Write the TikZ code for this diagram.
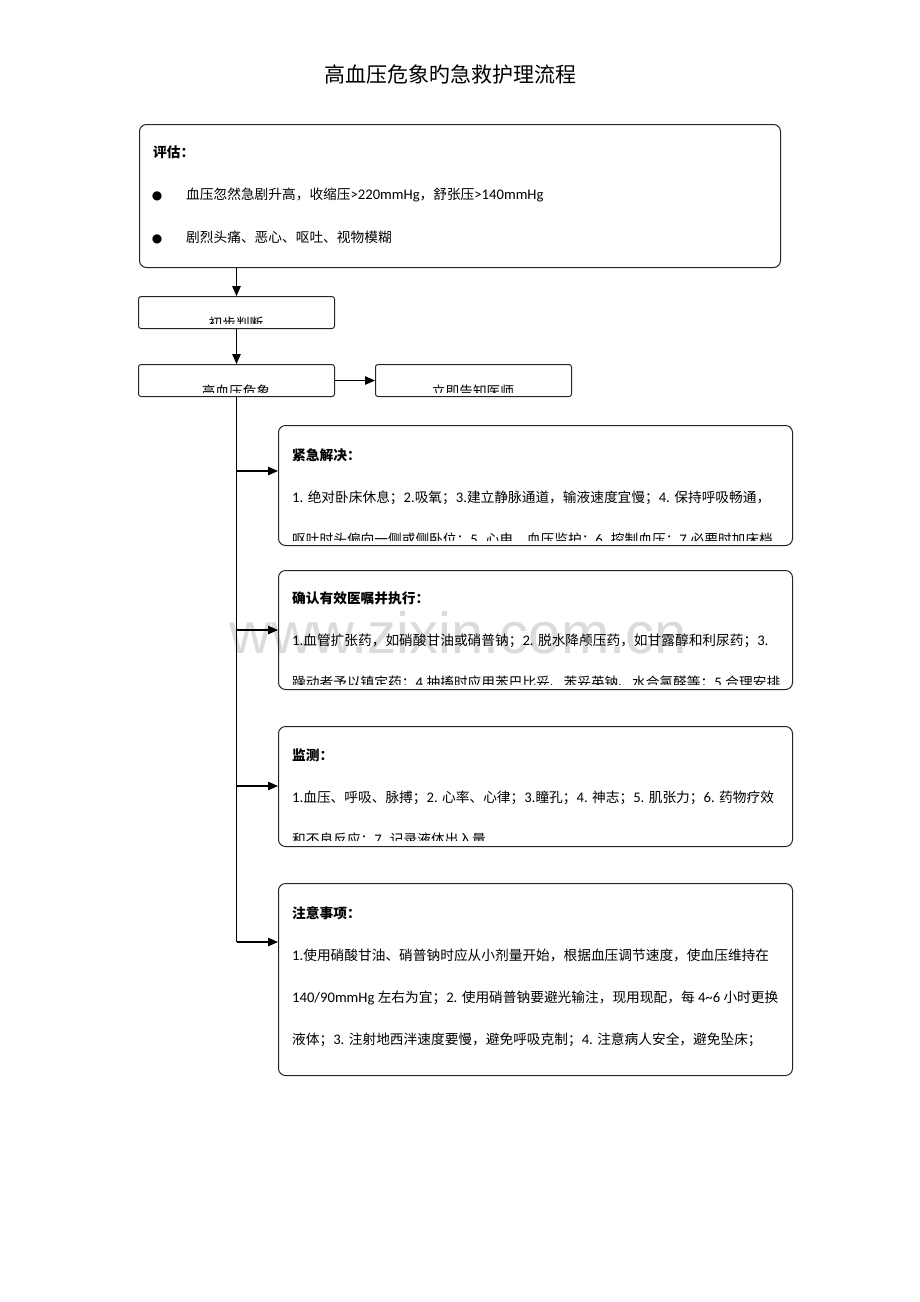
\documentclass[tikz,border=0pt]{standalone}
\usepackage{fontspec}
\setmainfont{Carlito}[Scale=1.07]
\newfontfamily\cj{Noto Sans CJK SC}
\newfontfamily\dv{DejaVu Sans}
\newfontfamily\wm{Liberation Sans}
\usetikzlibrary{arrows.meta}
\newcommand\zh[1]{{\cj #1}}
\begin{document}
\begin{tikzpicture}[x=1pt,y=-1pt,
 bigbox/.style={draw=black!85, line width=1pt, rounded corners=7pt, anchor=north west, inner sep=0pt},
 smallbox/.style={draw=black!85, line width=1pt, rounded corners=2.5pt, anchor=north west, inner sep=0pt, minimum width=196pt, minimum height=32pt},
 txt/.style={anchor=base west, inner sep=0pt, font=\fontsize{13.7pt}{16pt}\selectfont},
 ctxt/.style={anchor=base, inner sep=0pt, font=\cj\fontsize{13.7pt}{16pt}\selectfont},
 head/.style={anchor=base west, inner sep=0pt, font=\cj\bfseries\fontsize{13.7pt}{16pt}\selectfont},
 bul/.style={anchor=base, inner sep=0pt, font=\dv\fontsize{12pt}{14pt}\selectfont},
 arr/.style={line width=1.2pt, -{Triangle[length=10pt,width=8.5pt]}},
 conn/.style={line width=1.2pt}]
\fill[white] (0,0) rectangle (920,1302);
\useasboundingbox (0,0) rectangle (920,1302);
% watermark
\node[anchor=base, inner sep=0pt, text=black!14, font=\wm\fontsize{58pt}{60pt}\selectfont] (wmark) at (458,653) {www.zixin.com.cn};
% title
\node[anchor=base, inner sep=0pt, font=\cj\fontsize{21pt}{24pt}\selectfont] (title) at (450,82) {高血压危象旳急救护理流程};
% boxes
\node[bigbox, minimum width=641pt, minimum height=143pt] (assess) at (139,124) {};
\node[smallbox] (judge) at (138,296) {};
\node[smallbox] (crisis) at (138,364) {};
\node[smallbox] (notify) at (375,364) {};
\node[bigbox, minimum width=514pt, minimum height=120pt] (urgent) at (278,425) {};
\node[bigbox, minimum width=514pt, minimum height=119pt] (confirm) at (278,570) {};
\node[bigbox, minimum width=514pt, minimum height=120pt] (monitor) at (278,726) {};
\node[bigbox, minimum width=514pt, minimum height=192pt] (note) at (278,883) {};
% assess text
\node[head] (ah) at (153,157) {评估：};
\node[bul] (b1d) at (157,199) {●};
\node[txt] (a1) at (186,199) {\zh{血压忽然急剧升高，收缩压}>220mmHg\zh{，舒张压}>140mmHg};
\node[bul] (b2d) at (157,242) {●};
\node[txt] (a2) at (186,242) {\zh{剧烈头痛、恶心、呕吐、视物模糊}};
% small box texts (clipped)
\begin{scope}
\clip (138,296) rectangle (334,323);
\node[ctxt] (jt) at (236,328) {初步判断};
\end{scope}
\begin{scope}
\clip (138,364) rectangle (334,392);
\node[ctxt] (ct) at (236,396) {高血压危象};
\end{scope}
\begin{scope}
\clip (375,364) rectangle (571,392);
\node[ctxt] (nt) at (473,396) {立即告知医师};
\end{scope}
% urgent
\node[head] (uh) at (292,460) {紧急解决：};
\node[txt] (u1) at (292,502) {1. \zh{绝对卧床休息；}2.\zh{吸氧；}3.\zh{建立静脉通道，输液速度宜慢；}4. \zh{保持呼吸畅通，}};
\begin{scope}
\clip (278,425) rectangle (792,540);
\node[txt] (u2) at (292,544) {\zh{呕吐时头偏向一侧或侧卧位；}5. \zh{心电、血压监护；}6. \zh{控制血压；}7.\zh{必要时加床档}};
\end{scope}
% confirm
\node[head] (ch) at (292,603) {确认有效医嘱并执行：};
\node[txt] (c1) at (292,645) {1.\zh{血管扩张药，如硝酸甘油或硝普钠；}2. \zh{脱水降颅压药，如甘露醇和利尿药；}3.};
\begin{scope}
\clip (278,570) rectangle (792,684);
\node[txt] (c2) at (292,687) {\zh{躁动者予以镇定药；}4.\zh{抽搐时应用苯巴比妥、苯妥英钠、水合氯醛等；}5.\zh{合理安排}};
\end{scope}
% monitor
\node[head] (mh) at (292,760) {监测：};
\node[txt] (m1) at (292,802) {1.\zh{血压、呼吸、脉搏；}2. \zh{心率、心律；}3.\zh{瞳孔；}4. \zh{神志；}5. \zh{肌张力；}6. \zh{药物疗效}};
\begin{scope}
\clip (278,726) rectangle (792,840);
\node[txt] (m2) at (292,844) {\zh{和不良反应；}7. \zh{记录液体出入量}};
\end{scope}
% note
\node[head] (nh) at (292,918) {注意事项：};
\node[txt] (n1) at (292,960) {1.\zh{使用硝酸甘油、硝普钠时应从小剂量开始，根据血压调节速度，使血压维持在}};
\node[txt] (n2) at (292,1002) {140/90mmHg \zh{左右为宜；}2. \zh{使用硝普钠要避光输注，现用现配，每} 4\textasciitilde6 \zh{小时更换}};
\node[txt] (n3) at (292,1044) {\zh{液体；}3. \zh{注射地西泮速度要慢，避免呼吸克制；}4. \zh{注意病人安全，避免坠床；}};
% connectors
\draw[arr] (assess.south -| judge.north) -- (judge.north);
\draw[arr] (judge.south) -- (crisis.north);
\draw[arr] (crisis.east) -- (notify.west);
\coordinate (k1) at (crisis.south |- 0,471);
\coordinate (k2) at (crisis.south |- 0,630);
\coordinate (k3) at (crisis.south |- 0,786);
\coordinate (k4) at (crisis.south |- 0,942);
\draw[conn] (crisis.south) -- (k4);
\draw[arr] (k1) -- (k1 -| urgent.west);
\draw[arr] (k2) -- (k2 -| confirm.west);
\draw[arr] (k3) -- (k3 -| monitor.west);
\draw[arr] (k4) -- (k4 -| note.west);
\end{tikzpicture}
\end{document}
